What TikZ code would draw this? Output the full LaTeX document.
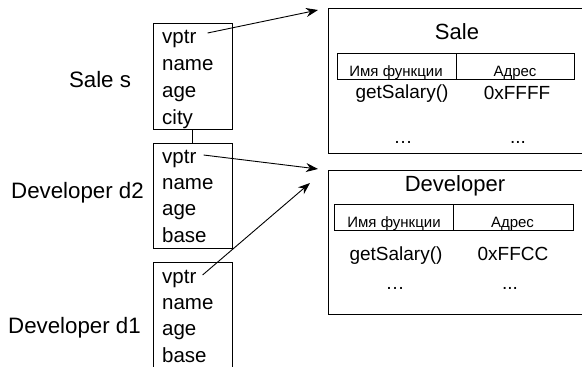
\documentclass[tikz,border=0pt]{standalone}
\usepackage{fontspec}
\setmainfont{Liberation Sans}
\usetikzlibrary{arrows.meta,calc}
\begin{document}
\begin{tikzpicture}[x=1pt,y=-1pt,
  box/.style={draw, line width=1pt, inner sep=0pt, outer sep=0pt, anchor=north west},
  fld/.style={anchor=base west, inner sep=0pt, font=\fontsize{20.5}{24}\selectfont},
  lbl/.style={anchor=base, inner sep=0pt, font=\fontsize{22.3}{26}\selectfont},
  ttl/.style={anchor=base, inner sep=0pt, font=\fontsize{22}{26}\selectfont},
  hdr/.style={anchor=base, inner sep=0pt, font=\fontsize{15}{18}\selectfont},
  cell/.style={anchor=base, inner sep=0pt, font=\fontsize{19}{22}\selectfont},
  ptr/.style={line width=0.9pt, -{Stealth[length=12pt,width=9pt]}}
]
\useasboundingbox (0,0) rectangle (582,367);
\clip (0,0) rectangle (582,367);

% left object boxes
\node[box, minimum width=79pt, minimum height=106pt] (sbox) at (153,23) {};
\node[box, minimum width=79pt, minimum height=105pt] (d2box) at (153,143) {};
\node[box, minimum width=79pt, minimum height=130pt] (d1box) at (153,262) {};
\draw[line width=1pt] (sbox.south) -- (d2box.north);

% fields
\node[fld] (sv) at (162,43) {vptr};
\node[fld] (sn) at (162,70) {name};
\node[fld] (sa) at (162,97) {age};
\node[fld] (sc) at (162,124) {city};

\node[fld] (d2v) at (162,163) {vptr};
\node[fld] (d2n) at (162,189) {name};
\node[fld] (d2a) at (162,215.5) {age};
\node[fld] (d2b) at (162,242) {base};

\node[fld] (d1v) at (162,283) {vptr};
\node[fld] (d1n) at (162,309) {name};
\node[fld] (d1a) at (162,335.5) {age};
\node[fld] (d1b) at (162,362) {base};

% labels
\node[lbl] (ls) at (100,87) {Sale s};
\node[lbl] (ld2) at (77.5,198) {Developer d2};
\node[lbl] (ld1) at (74.5,333) {Developer d1};

% vtables
\node[box, minimum width=280pt, minimum height=145pt] (sale) at (328,8) {};
\node[box, minimum width=280pt, minimum height=144pt] (dev) at (328,170) {};

\node[ttl] (saleT) at (457,39.5) {Sale};
\node[box, minimum width=237pt, minimum height=26pt] (stab) at (337,53) {};
\draw[line width=1pt] (456,53) -- (456,79);
\node[hdr] (sh1) at (396,76) {Имя функции};
\node[hdr] (sh2) at (515,76) {Адрес};
\node[cell] (sf) at (402,98.5) {getSalary()};
\node[cell] (sad) at (517,99) {0xFFFF};
\node[cell] (se1) at (403,143) {…};
\node[cell] (se2) at (518,143) {...};

\node[ttl] (devT) at (455,191) {Developer};
\node[box, minimum width=239pt, minimum height=26pt] (dtab) at (334,204) {};
\draw[line width=1pt] (453,204) -- (453,230);
\node[hdr] (dh1) at (394,227) {Имя функции};
\node[hdr] (dh2) at (512.5,227) {Адрес};
\node[cell] (df) at (396,260) {getSalary()};
\node[cell] (dad) at (513,260) {0xFFCC};
\node[cell] (de1) at (395,289) {…};
\node[cell] (de2) at (510,289) {...};

% pointers
\draw[ptr] ($(sv.base east)+(11,-10)$) -- ($(sale.north west)+(-10,2)$);
\draw[ptr] ($(d2v.base east)+(7,-8)$) -- ($(dev.north west)+(-10,-1)$);
\draw[ptr] ($(d1v.base east)+(6,-8)$) -- ($(dev.north west)+(-18,13)$);
\end{tikzpicture}
\end{document}
